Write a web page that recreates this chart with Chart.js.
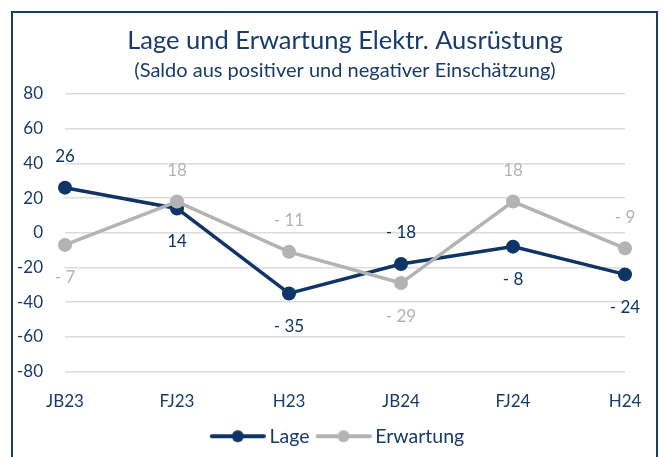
<!DOCTYPE html>
<html>
<head>
<meta charset="utf-8">
<script src="https://cdn.jsdelivr.net/npm/chart.js@4"></script>
<style>
  html, body { margin: 0; padding: 0; background: #fff; }
  #wrap { position: relative; width: 664px; height: 457px; overflow: hidden; }
  #frame { position: absolute; left: 11px; top: 11px; width: 647px; height: 470px; border: 2px solid #1d3c6b; box-sizing: border-box; }
  canvas { position: absolute; left: 0; top: 0; }
</style>
</head>
<body>
<div id="wrap">
  <div id="frame"></div>
  <canvas id="chart" width="664" height="457"></canvas>
</div>
<script>
// Lage / Erwartung, Saldo values
const categories = ['JB23', 'FJ23', 'H23', 'JB24', 'FJ24', 'H24'];
const lageValues = [26, 14, -35, -18, -8, -24];
const erwartungValues = [-7, 18, -11, -29, 18, -9];
const yTicks = [80, 60, 40, 20, 0, -20, -40, -60, -80];

// where each value label sits relative to its point
const lageLabelPos = ['top', 'bottom', 'bottom', 'top', 'bottom', 'bottom'];
const erwartungLabelPos = ['bottom', 'top', 'top', 'bottom', 'top', 'top'];

const titleText = 'Lage und Erwartung Elektr. Ausrüstung';
const subtitleText = '(Saldo aus positiver und negativer Einschätzung)';

const NAVY = '#0f3566';
const GREY = '#b3b3b3';
const TEXT = '#173b6c';
const FONT = 'Lato, "Open Sans", sans-serif';

function fmt(v) {
    return v < 0 ? '- ' + Math.abs(v) : String(v);
}

// legend marker: line with a dot in the middle (a bit wider than its legend box)
function legendMarker(color) {
    const c = document.createElement('canvas');
    c.width = 58;
    c.height = 14;
    const g = c.getContext('2d');
    g.strokeStyle = color;
    g.lineWidth = 4;
    g.lineCap = 'round';
    g.beginPath();
    g.moveTo(4, 7);
    g.lineTo(56, 7);
    g.stroke();
    g.fillStyle = color;
    g.beginPath();
    g.arc(30, 7, 6, 0, Math.PI * 2);
    g.fill();
    return c;
}

// title + subtitle centred over the plot area (as in the Excel original)
const centredTitle = {
    id: 'centredTitle',
    afterLayout(chart) {
        // legend centred under the plot area too
        const lg = chart.legend;
        if (lg) {
            lg.left = chart.chartArea.left - 12;
            lg.right = chart.chartArea.right;
        }
    },
    afterDraw(chart) {
        const ctx = chart.ctx;
        const cx = (chart.chartArea.left + chart.chartArea.right) / 2;
        ctx.save();
        ctx.fillStyle = TEXT;
        ctx.textAlign = 'center';
        ctx.textBaseline = 'alphabetic';
        ctx.font = '25.5px ' + FONT;
        ctx.fillText(titleText, cx, 49);
        ctx.font = '20px ' + FONT;
        ctx.fillText(subtitleText, cx, 77);
        ctx.restore();
    }
};

const valueLabels = {
    id: 'valueLabels',
    afterDatasetsDraw(chart) {
        const ctx = chart.ctx;
        ctx.save();
        ctx.font = '17px ' + FONT;
        ctx.textAlign = 'center';
        ctx.textBaseline = 'middle';
        chart.data.datasets.forEach((ds, i) => {
            const meta = chart.getDatasetMeta(i);
            meta.data.forEach((pt, j) => {
                const off = ds.labelPos[j] === 'top' ? -31 : 33;
                ctx.fillStyle = ds.labelColor;
                ctx.fillText(fmt(ds.data[j]), pt.x, pt.y + off);
            });
        });
        ctx.restore();
    }
};

new Chart(document.getElementById('chart'), {
    type: 'line',
    data: {
        labels: categories,
        datasets: [
            {
                label: 'Lage',
                data: lageValues,
                borderColor: NAVY,
                backgroundColor: NAVY,
                borderWidth: 3.5,
                pointRadius: 7,
                pointBackgroundColor: NAVY,
                pointBorderWidth: 0,
                labelPos: lageLabelPos,
                labelColor: NAVY,
                order: 2
            },
            {
                label: 'Erwartung',
                data: erwartungValues,
                borderColor: GREY,
                backgroundColor: GREY,
                borderWidth: 3.5,
                pointRadius: 7,
                pointBackgroundColor: GREY,
                pointBorderWidth: 0,
                labelPos: erwartungLabelPos,
                labelColor: GREY,
                order: 1
            }
        ]
    },
    options: {
        responsive: false,
        animation: false,
        layout: { padding: { left: 0, right: 39, top: 94, bottom: 1 } },
        scales: {
            x: {
                offset: false,
                afterFit(scale) {
                    scale.height = 45;
                },
                grid: { display: false, drawTicks: false },
                border: { display: false },
                ticks: { color: TEXT, font: { family: FONT, size: 17 }, padding: 20 }
            },
            y: {
                min: -80,
                max: 80,
                afterBuildTicks(scale) {
                    scale.ticks = yTicks.map(v => ({ value: v }));
                },
                afterFit(scale) {
                    scale.width = 65;
                },
                grid: { color: '#dcdcdc', lineWidth: 1.5, drawTicks: false },
                border: { display: false },
                ticks: { color: TEXT, font: { family: FONT, size: 17 }, padding: 22 }
            }
        },
        plugins: {
            title: { display: false },
            legend: {
                position: 'bottom',
                labels: {
                    color: TEXT,
                    font: { family: FONT, size: 19.5 },
                    usePointStyle: true,
                    pointStyleWidth: 46,
                    padding: 10,
                    generateLabels(chart) {
                        return chart.data.datasets.map((ds, i) => ({
                            text: ds.label,
                            fontColor: TEXT,
                            pointStyle: legendMarker(ds.borderColor),
                            datasetIndex: i,
                            lineWidth: 0,
                            hidden: false
                        }));
                    }
                }
            },
            tooltip: { enabled: false }
        }
    },
    plugins: [valueLabels, centredTitle]
});
</script>
</body>
</html>
